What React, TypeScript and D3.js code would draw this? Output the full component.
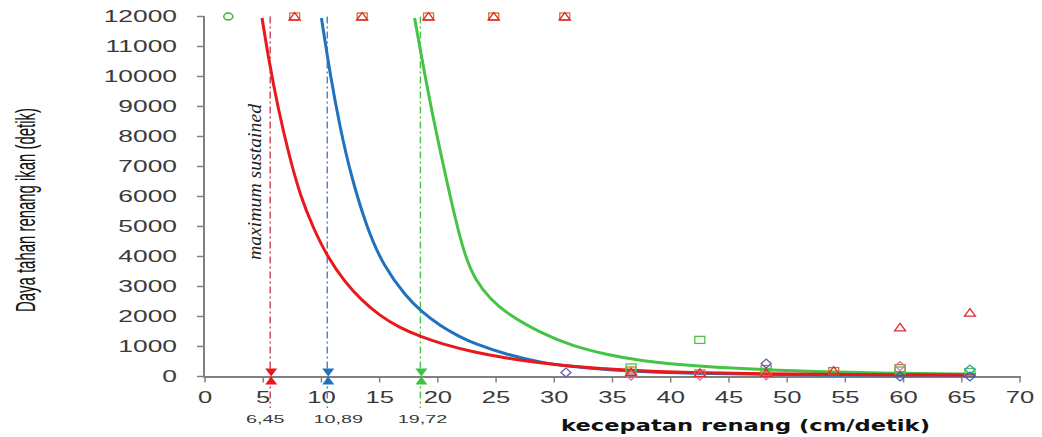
import React from 'react';
import * as d3 from 'd3';

// ---- data ----
const xTickValues = [0, 5, 10, 15, 20, 25, 30, 35, 40, 45, 50, 55, 60, 65, 70];
const yTickValues = [0, 1000, 2000, 3000, 4000, 5000, 6000, 7000, 8000, 9000, 10000, 11000, 12000];

const redCurveX = [4.9, 5.5, 6.3, 7.2, 8.2, 9.3, 10.5, 12.0, 13.5, 15.0, 16.7, 18.5, 20.5, 23.0, 25.9, 28.8, 31.6, 36.0, 41.7, 48.0, 55.0, 66.2];
const redCurveY = [11950, 10500, 8900, 7400, 6000, 4950, 4000, 3150, 2520, 2030, 1630, 1330, 1070, 820, 610, 450, 335, 210, 125, 85, 65, 50];

const blueCurveX = [10.0, 10.8, 11.6, 12.5, 13.9, 15.3, 17.3, 18.5, 20.2, 21.9, 23.0, 25.9, 28.8, 31.6, 36.0, 41.7, 50.0, 58.0, 66.2];
const blueCurveY = [11950, 9950, 8300, 6750, 4950, 3700, 2650, 2200, 1680, 1320, 1120, 730, 470, 320, 180, 100, 60, 45, 40];

const greenCurveX = [18.0, 19.3, 20.6, 21.5, 22.3, 23.2, 24.5, 25.9, 28.8, 31.6, 34.5, 37.4, 42.0, 51.0, 58.0, 66.2];
const greenCurveY = [11950, 9150, 6800, 5250, 4050, 3220, 2580, 2100, 1450, 1010, 730, 520, 340, 170, 110, 80];

const sustainedX = [5.6, 10.5, 18.5];
const sustainedLabels = ['6,45', '10,89', '19,72'];

const triRedX = [7.7, 13.5, 19.2, 24.8, 30.9, 36.6, 42.5, 48.2, 54.0, 59.7, 65.7];
const triRedY = [12000, 12000, 12000, 12000, 12000, 150, 120, 120, 200, 1640, 2130];

const sqOrangeX = [7.7, 13.5, 19.2, 24.8, 30.9, 36.6, 42.5, 48.2, 54.0, 59.7];
const sqOrangeY = [12000, 12000, 12000, 12000, 12000, 200, 100, 250, 180, 280];

const sqGreenX = [36.6, 42.5, 48.2, 59.7, 65.7];
const sqGreenY = [300, 1220, 150, 200, 150];

const diaPurpleX = [31.0, 48.2];
const diaPurpleY = [130, 430];

const diaPinkX = [36.6, 42.5, 48.2, 59.7];
const diaPinkY = [30, 30, 40, 350];

const diaTealX = [65.7];
const diaTealY = [230];

const diaBlueX = [59.7, 65.7];
const diaBlueY = [0, 0];

const circGreenX = [2.0];
const circGreenY = [12000];

const zip = (a: number[], b: number[]) => a.map((v, i) => [v, b[i]] as [number, number]);

export default function App() {
  const W = 1042, H = 437;
  const x = d3.scaleLinear().domain([0, 70]).range([205, 1020]);
  const y = d3.scaleLinear().domain([0, 12000]).range([376.5, 16.5]);
  const line = d3.line<[number, number]>().x(d => x(d[0])).y(d => y(d[1])).curve(d3.curveBasis);

  const axisColor = '#808080';
  const textColor = '#3a3a3a';
  const font = '"Liberation Sans", Arial, sans-serif';

  const curves = [
    { pts: zip(greenCurveX, greenCurveY), color: '#44c444' },
    { pts: zip(blueCurveX, blueCurveY), color: '#1f72be' },
    { pts: zip(redCurveX, redCurveY), color: '#e8181c' },
  ];

  const dashColors = ['#cc4058', '#4f7fb5', '#4cbf4c'];
  const arrowColors = ['#e8181c', '#1f72be', '#3cc23c'];
  const labelDx = [-5, 11, 2];

  const tri = (cx: number, cy: number) => `M${cx - 5.5},${cy + 3.5}L${cx},${cy - 4}L${cx + 5.5},${cy + 3.5}Z`;
  const dia = (cx: number, cy: number) => `M${cx - 5},${cy}L${cx},${cy - 4.5}L${cx + 5},${cy}L${cx},${cy + 4.5}Z`;

  const y0 = y(0);

  return (
    <svg width={W} height={H} style={{ position: 'absolute', left: 0, top: 0, background: '#fff' }}>
      <rect x={0} y={0} width={W} height={H} fill="#fff" />

      {/* axes */}
      <line x1={204} x2={204} y1={y(12000) - 0.5} y2={y0 + 1} stroke={axisColor} strokeWidth={2} />
      <line x1={204} x2={x(70) + 1} y1={y0 + 0.5} y2={y0 + 0.5} stroke={axisColor} strokeWidth={2} />
      {yTickValues.map(v => (
        <g key={'yt' + v}>
          <line x1={197} x2={204} y1={y(v)} y2={y(v)} stroke={axisColor} strokeWidth={1.5} />
          <text transform={`translate(177,${y(v) + 5.8}) scale(1.65,1)`} textAnchor="end"
            fontFamily={font} fontSize={16} fill={textColor}>{v}</text>
        </g>
      ))}
      {xTickValues.map(v => (
        <g key={'xt' + v}>
          <line x1={x(v)} x2={x(v)} y1={y0} y2={y0 + 6} stroke={axisColor} strokeWidth={1.5} />
          <text transform={`translate(${x(v)},403) scale(1.6,1)`} textAnchor="middle"
            fontFamily={font} fontSize={16} fill={textColor}>{v}</text>
        </g>
      ))}

      {/* axis titles */}
      <text transform="translate(35,210) scale(1.8,1) rotate(-90)" textAnchor="middle"
        fontFamily={font} fontSize={15} fill="#111" textLength={204} lengthAdjust="spacingAndGlyphs">
        Daya tahan renang ikan (detik)
      </text>
      <text x={561} y={431} fontFamily='"DejaVu Sans", Verdana, sans-serif' fontWeight="bold" fontSize={16.5}
        fill="#111" textLength={369} lengthAdjust="spacingAndGlyphs">
        kecepatan renang (cm/detik)
      </text>

      {/* maximum sustained dashed lines */}
      {sustainedX.map((v, i) => (
        <line key={'ds' + i} x1={x(v)} x2={x(v)} y1={y(12000)} y2={408}
          stroke={dashColors[i]} strokeWidth={1.4} strokeDasharray="7,3,2,3" />
      ))}

      {/* curves */}
      {curves.map((c, i) => (
        <path key={'c' + i} d={line(c.pts) || ''} fill="none" stroke={c.color} strokeWidth={3} />
      ))}

      {/* arrows at axis */}
      {sustainedX.map((v, i) => {
        const cx = x(v) + 1;
        return (
          <g key={'ar' + i} fill={arrowColors[i]}>
            <path d={`M${cx - 6},${y0 - 8}L${cx + 6},${y0 - 8}L${cx},${y0}Z`} />
            <path d={`M${cx - 6},${y0 + 8}L${cx + 6},${y0 + 8}L${cx},${y0}Z`} />
          </g>
        );
      })}
      {sustainedX.map((v, i) => (
        <text key={'sl' + i} transform={`translate(${x(v) + labelDx[i]},423) scale(1.8,1)`} textAnchor="middle"
          fontFamily={font} fontSize={11} fill={textColor}>{sustainedLabels[i]}</text>
      ))}

      <text transform="translate(261,182) scale(1.3,1) rotate(-90)" textAnchor="middle"
        fontFamily='"Liberation Serif", "Times New Roman", serif' fontStyle="italic" fontSize={15}
        fill="#222" textLength={156} lengthAdjust="spacingAndGlyphs">maximum sustained</text>

      {/* scatter markers */}
      {zip(sqOrangeX, sqOrangeY).map(([a, b], i) => (
        <rect key={'so' + i} x={x(a) - 5} y={y(b) - 3.5} width={10} height={7} fill="none" stroke="#c87a2c" strokeWidth={1.3} />
      ))}
      {zip(sqGreenX, sqGreenY).map(([a, b], i) => (
        <rect key={'sg' + i} x={x(a) - 5} y={y(b) - 3.5} width={10} height={7} fill="none" stroke="#4cc44c" strokeWidth={1.3} />
      ))}
      {zip(diaBlueX, diaBlueY).map(([a, b], i) => (
        <path key={'db' + i} d={dia(x(a), y(b))} fill="none" stroke="#3a62b0" strokeWidth={1.3} />
      ))}
      {zip(diaPinkX, diaPinkY).map(([a, b], i) => (
        <path key={'dp' + i} d={dia(x(a), y(b))} fill="none" stroke="#e070a8" strokeWidth={1.3} />
      ))}
      {zip(diaPurpleX, diaPurpleY).map(([a, b], i) => (
        <path key={'du' + i} d={dia(x(a), y(b))} fill="none" stroke="#6a5aa8" strokeWidth={1.3} />
      ))}
      {zip(diaTealX, diaTealY).map(([a, b], i) => (
        <path key={'dt' + i} d={dia(x(a), y(b))} fill="none" stroke="#2aa0a0" strokeWidth={1.3} />
      ))}
      {zip(triRedX, triRedY).map(([a, b], i) => (
        <path key={'tr' + i} d={tri(x(a), y(b))} fill="none" stroke="#e0282e" strokeWidth={1.3} />
      ))}
      {zip(circGreenX, circGreenY).map(([a, b], i) => (
        <ellipse key={'cg' + i} cx={x(a)} cy={y(b)} rx={4.5} ry={3.5} fill="none" stroke="#3cb43c" strokeWidth={1.5} />
      ))}
    </svg>
  );
}
